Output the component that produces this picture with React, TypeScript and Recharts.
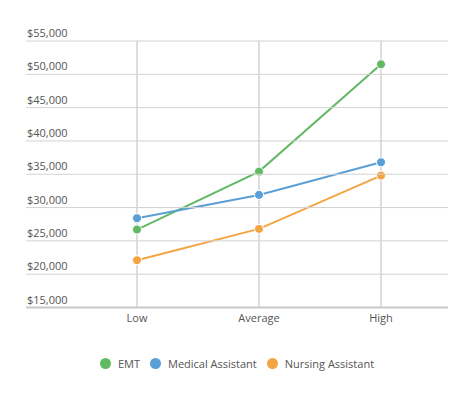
import React from 'react';
import { LineChart, Line, XAxis, YAxis, ReferenceLine, Legend } from 'recharts';

const categories = ['Low', 'Average', 'High'];
const emt = [26700, 35400, 51500];
const medicalAssistant = [28400, 31900, 36800];
const nursingAssistant = [22100, 26800, 34800];
const yTicks = [15000, 20000, 25000, 30000, 35000, 40000, 45000, 50000, 55000];

const SERIES = [
    { key: 'emt', name: 'EMT', color: '#62b964' },
    { key: 'medical', name: 'Medical Assistant', color: '#5a9fd6' },
    { key: 'nursing', name: 'Nursing Assistant', color: '#f5a443' },
];

const data = categories.map((c, i) => ({
    name: c,
    emt: emt[i],
    medical: medicalAssistant[i],
    nursing: nursingAssistant[i],
}));

const FONT = '"Open Sans", sans-serif';

const formatMoney = (v: number) => '$' + v.toLocaleString('en-US');

// tick label sits above its gridline, which runs under the label too
const YTick = ({ y, payload }: any) => {
    const isBase = payload.value === 15000;
    return (
        <g>
            <line x1={26} x2={448} y1={y} y2={y} stroke={isBase ? '#c8c8c8' : '#d2d2d2'} strokeWidth={isBase ? 2 : 1} />
            <text x={27} y={y - 4} textAnchor="start" fill="#555" fontSize={11} fontFamily={FONT}>
                {formatMoney(payload.value)}
            </text>
        </g>
    );
};

const LegendContent = () => (
    <div style={{ display: 'flex', justifyContent: 'center', alignItems: 'flex-start', height: 40, boxSizing: 'border-box', paddingTop: 8, fontFamily: FONT, fontSize: 11, color: '#555' }}>
        {SERIES.map((s) => (
            <div key={s.key} style={{ display: 'flex', alignItems: 'center', height: 12, margin: '0 5px' }}>
                <span style={{ width: 11, height: 11, borderRadius: '50%', background: s.color, display: 'inline-block', marginRight: 7 }} />
                <span>{s.name}</span>
            </div>
        ))}
    </div>
);

export default function App() {
    return (
        <div style={{ position: 'absolute', left: 0, top: 0, background: '#fff' }}>
            <LineChart width={474} height={398} data={data} margin={{ top: 41, right: 26, bottom: 9, left: 0 }}>
                {categories.map((c) => (
                    <ReferenceLine key={c} x={c} stroke="#bdbdbd" />
                ))}
                <XAxis
                    dataKey="name"
                    padding={{ left: 61, right: 67 }}
                    axisLine={false}
                    tickLine={false}
                    height={41.5}
                    tick={{ fill: '#555', fontSize: 11, fontFamily: FONT }}
                    tickMargin={1}
                />
                <YAxis
                    width={76}
                    domain={[15000, 55000]}
                    ticks={yTicks}
                    axisLine={false}
                    tickLine={false}
                    tick={<YTick />}
                    interval={0}
                />
                {SERIES.map((s) => (
                    <Line
                        key={s.key}
                        dataKey={s.key}
                        name={s.name}
                        stroke={s.color}
                        strokeWidth={2}
                        type="linear"
                        dot={{ r: 4.5, fill: s.color, stroke: '#fff', strokeWidth: 1 }}
                        isAnimationActive={false}
                    />
                ))}
                <Legend
                    verticalAlign="bottom"
                    height={40}
                    content={<LegendContent />}
                    wrapperStyle={{ left: 0, width: 474 }}
                />
            </LineChart>
        </div>
    );
}
